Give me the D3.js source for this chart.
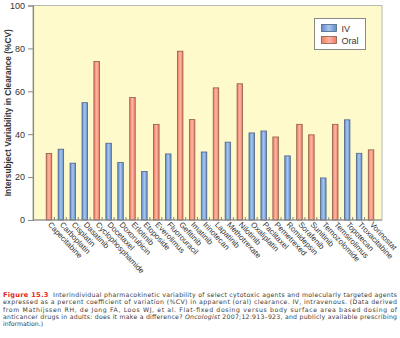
<!DOCTYPE html>
<html>
<head>
<meta charset="utf-8">
<script src="https://cdn.jsdelivr.net/npm/d3@7"></script>
<style>
  html, body { margin:0; padding:0; background:#ffffff; }
  svg text { font-family: "Liberation Sans", Arial, Helvetica, sans-serif; }
  svg .caption text { font-family: "DejaVu Sans", "Liberation Sans", sans-serif; }
</style>
</head>
<body>
<script>

//******************************************************************************
// Data ************************************************************************

    var drugs = ["Capecitabine","Carboplatin","Cisplatin","Dasatinib","Cyclophosphamide",
                 "Docetaxel","Doxorubicin","Erlotinib","Etoposide","Everolimus",
                 "Fluorouracil","Gefitinib","Imatinib","Irinotecan","Lapatinib",
                 "Methotrexate","Nilotinib","Oxaliplatin","Paclitaxel","Pemetrexed",
                 "Romidepsin","Sorafenib","Sunitinib","Temozolomide","Temsirolimus",
                 "Topotecan","Troxacitabine","Vorinostat"];

    // route of each bar (IV / Oral)
    var routes = ["Oral","IV","IV","IV","Oral",
                  "IV","IV","Oral","IV","Oral",
                  "IV","Oral","Oral","IV","Oral",
                  "IV","Oral","IV","IV","Oral",
                  "IV","Oral","Oral","IV","Oral",
                  "IV","IV","Oral"];

    // %CV of clearance
    var cvValues = [31, 33, 26.5, 54.7, 73.9,
                    35.8, 26.8, 57.1, 22.6, 44.6,
                    30.8, 78.7, 46.8, 31.7, 61.6,
                    36.3, 63.5, 40.6, 41.5, 38.7,
                    29.9, 44.6, 39.7, 19.6, 44.6,
                    46.7, 31.1, 32.7];

    var yTicks = [0, 20, 40, 60, 80, 100];

    var legendKeys = ["IV", "Oral"];

    var captionLines = [
      "Interindividual pharmacokinetic variability of select cytotoxic agents and molecularly targeted agents",
      "expressed as a percent coefficient of variation (%CV) in apparent (oral) clearance. IV, intravenous. (Data derived",
      "from Mathijssen RH, de Jong FA, Loos WJ, et al. Flat-fixed dosing versus body surface area based dosing of",
      "anticancer drugs in adults: does it make a difference? |Oncologist| 2007;12:913\u2013923, and publicly available prescribing",
      "information.)"
    ];


//******************************************************************************
// Settings ********************************************************************

    var windowSettings = {
        width : 400,//px
        height : 338,//px
    };

    var graphSettings = {
        left : 33,//px  y axis
        right : 382,//px
        top : 5.5,//px
        bottom : 220,//px  baseline
        bandLeft : 43,//px  first band
        bandRight : 377,//px
        barWidth : 5.5,//px

        background : "#fffacb",
        frameColor : "#8a8a84",
        textColor : "#333333",

        colors : { IV : ["#5f8ccb", "#a8c6ee"], Oral : ["#ee7a60", "#ffb6a2"] },
        strokes : { IV : "#4d6486", Oral : "#8c5a4c" },
    };


//******************************************************************************
// Initialization **************************************************************

    var svg = d3.select("body").append("svg")
        .attr("width", windowSettings.width)
        .attr("height", windowSettings.height);

    var defs = svg.append("defs");

    legendKeys.forEach(function(k){ // shaded fill for each route
        var g = defs.append("linearGradient")
            .attr("id", "grad" + k)
            .attr("x1", "0%").attr("x2", "100%").attr("y1", "0%").attr("y2", "0%");
        g.append("stop").attr("offset", "0%").attr("stop-color", graphSettings.colors[k][0]);
        g.append("stop").attr("offset", "50%").attr("stop-color", graphSettings.colors[k][1]);
        g.append("stop").attr("offset", "100%").attr("stop-color", graphSettings.colors[k][0]);
    });

    var xScale = d3.scaleBand()
        .domain(drugs)
        .range([graphSettings.bandLeft, graphSettings.bandRight]);

    var yScale = d3.scaleLinear()
        .domain([0, 100])
        .range([graphSettings.bottom, graphSettings.top]);


//******************************************************************************
// Prog ************************************************************************

    drawFrame();
    drawBars();
    drawAxes();
    drawLegend();
    drawCaption();


//******************************************************************************
// Functions *******************************************************************

    function drawFrame(){ // plot background and border
        svg.append("rect")
            .attr("x", graphSettings.left)
            .attr("y", graphSettings.top)
            .attr("width", graphSettings.right - graphSettings.left)
            .attr("height", graphSettings.bottom - graphSettings.top)
            .attr("fill", graphSettings.background)
            .attr("stroke", "#b8b8b0")
            .attr("stroke-width", 1);
    }


    function drawBars(){
        svg.append("g")
            .selectAll("rect")
            .data(drugs)
            .join("rect")
            .attr("x", (d) => xScale(d) + xScale.bandwidth()/2 - graphSettings.barWidth/2)
            .attr("y", (d,i) => yScale(cvValues[i]))
            .attr("width", graphSettings.barWidth)
            .attr("height", (d,i) => graphSettings.bottom - yScale(cvValues[i]))
            .attr("fill", (d,i) => "url(#grad" + routes[i] + ")")
            .attr("stroke", (d,i) => graphSettings.strokes[routes[i]])
            .attr("stroke-width", 0.8);
    }


    function drawAxes(){
        var yAxis = d3.axisLeft(yScale)
            .tickValues(yTicks)
            .tickSize(5)
            .tickPadding(3);

        var gy = svg.append("g")
            .attr("transform", "translate(" + graphSettings.left + ",0)")
            .call(yAxis);
        gy.select(".domain").attr("stroke", graphSettings.frameColor).attr("stroke-width", 1.2);
        gy.selectAll(".tick line").attr("stroke", graphSettings.frameColor);
        gy.selectAll(".tick text")
            .attr("fill", graphSettings.textColor)
            .style("font-size", "9px");

        // baseline
        svg.append("line")
            .attr("x1", graphSettings.left).attr("x2", graphSettings.right)
            .attr("y1", graphSettings.bottom).attr("y2", graphSettings.bottom)
            .attr("stroke", graphSettings.frameColor)
            .attr("stroke-width", 1.2);

        // small inner ticks between categories
        svg.append("g")
            .selectAll("line")
            .data(drugs.slice(1))
            .join("line")
            .attr("x1", (d) => xScale(d) - 0.5)
            .attr("x2", (d) => xScale(d) - 0.5)
            .attr("y1", graphSettings.bottom)
            .attr("y2", graphSettings.bottom - 3)
            .attr("stroke", "#6f6f6a")
            .attr("stroke-width", 0.8);

        // slanted drug names
        svg.append("g")
            .selectAll("text")
            .data(drugs)
            .join("text")
            .attr("transform", (d) => "translate(" + (xScale(d) + xScale.bandwidth()/2 - 1.5) + "," + (graphSettings.bottom + 5) + ") rotate(47)")
            .attr("text-anchor", "start")
            .attr("fill", graphSettings.textColor)
            .style("font-size", "7.9px")
            .text((d) => d);

        // y title
        svg.append("text")
            .attr("transform", "translate(11," + ((graphSettings.top + graphSettings.bottom)/2) + ") rotate(-90)")
            .attr("text-anchor", "middle")
            .attr("fill", graphSettings.textColor)
            .style("font-size", "8.3px")
            .style("font-weight", "bold")
            .text("Intersubject Variability in Clearance (%CV)");
    }


    function drawLegend(){
        var lg = svg.append("g").attr("transform", "translate(314.5,18.5)");

        lg.append("rect")
            .attr("width", 51)
            .attr("height", 31)
            .attr("fill", "#ffffff")
            .attr("stroke", "#8a8a84");

        legendKeys.forEach(function(k, i){
            lg.append("rect")
                .attr("x", 7)
                .attr("y", 6 + i*12)
                .attr("width", 15)
                .attr("height", 7)
                .attr("fill", "url(#grad" + k + ")")
                .attr("stroke", graphSettings.strokes[k])
                .attr("stroke-width", 0.8);
            lg.append("text")
                .attr("x", 27)
                .attr("y", 13 + i*12)
                .attr("fill", graphSettings.textColor)
                .style("font-size", "9px")
                .text(k);
        });
    }


    function drawCaption(){ // figure caption, justified lines
        var cap = svg.append("g")
            .attr("class", "caption")
            .style("font-size", "6.2px")
            .attr("fill", "#3a3a3a");

        captionLines.forEach(function(line, i){
            var y = 297 + i*7.3;
            var t = cap.append("text").attr("x", 3).attr("y", y);
            if(i < captionLines.length - 1){
                t.attr("textLength", 394).attr("lengthAdjust", "spacing");
            }
            if(i == 0){
                t.append("tspan")
                    .attr("fill", "#e2231a")
                    .style("font-weight", "bold")
                    .style("font-size", "6.6px")
                    .text("Figure 15.3");
                t.append("tspan").text("\u00a0\u00a0" + line);
            } else {
                line.split("|").forEach(function(part, j){ // odd parts are italic
                    t.append("tspan")
                        .style("font-style", j % 2 ? "italic" : "normal")
                        .text(part);
                });
            }
        });
    }

</script>
</body>
</html>
